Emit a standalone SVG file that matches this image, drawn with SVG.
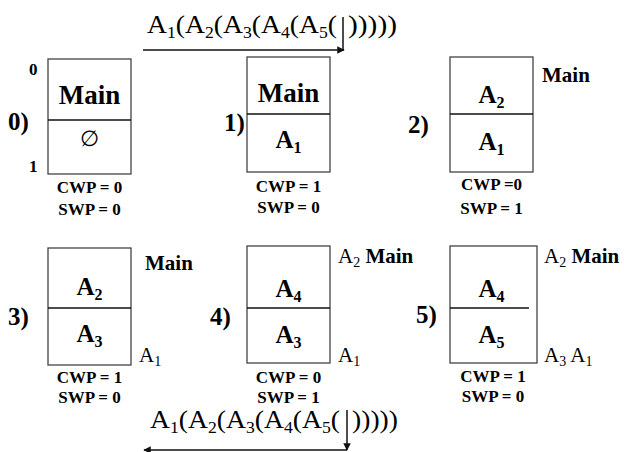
<svg xmlns="http://www.w3.org/2000/svg" width="624" height="452" viewBox="0 0 624 452">
<style>
.box{fill:#fff;stroke:#444;stroke-width:1.3}
.div{stroke:#111;stroke-width:1.3}
.conn{stroke:#111;stroke-width:1.5;fill:none}
</style>
<defs>
<marker id="ah" viewBox="0 0 10 10" refX="9" refY="5" markerWidth="5" markerHeight="5" orient="auto" markerUnits="strokeWidth">
<path d="M0,0 L10,5 L0,10 z" fill="#111"/>
</marker>
</defs>

<g id="step0">
<text x="8" y="130" style="font-family:'Liberation Serif';font-weight:bold;font-size:25px">0)</text>
<text x="29" y="75" style="font-family:'Liberation Serif';font-weight:bold;font-size:17px">0</text>
<text x="29" y="172" style="font-family:'Liberation Serif';font-weight:bold;font-size:17px">1</text>
<rect class="box" x="48" y="59" width="83" height="115"/>
<line class="div" x1="48" y1="120" x2="131" y2="120"/>
<text x="89.5" y="104" text-anchor="middle" style="font-family:'Liberation Serif';font-weight:bold;font-size:27px">Main</text>
<text x="89.5" y="146" text-anchor="middle" style="font-family:'DejaVu Serif';font-size:22px">∅</text>
<text x="89.5" y="193" text-anchor="middle" style="font-family:'Liberation Serif';font-weight:bold;font-size:17px">CWP = 0</text>
<text x="89.5" y="215" text-anchor="middle" style="font-family:'Liberation Serif';font-weight:bold;font-size:17px">SWP = 0</text>
</g>

<g id="step1">
<text x="224" y="131" style="font-family:'Liberation Serif';font-weight:bold;font-size:25px">1)</text>
<rect class="box" x="247" y="57" width="83" height="115"/>
<line class="div" x1="247" y1="114" x2="330" y2="114"/>
<text x="288.5" y="102" text-anchor="middle" style="font-family:'Liberation Serif';font-weight:bold;font-size:27px">Main</text>
<text x="288.5" y="148" text-anchor="middle" style="font-family:'Liberation Serif';font-weight:bold;font-size:25px">A<tspan dy="5" style="font-size:16px">1</tspan></text>
<text x="288.5" y="192" text-anchor="middle" style="font-family:'Liberation Serif';font-weight:bold;font-size:17px">CWP = 1</text>
<text x="288.5" y="213" text-anchor="middle" style="font-family:'Liberation Serif';font-weight:bold;font-size:17px">SWP = 0</text>
</g>

<g id="step2">
<text x="408" y="133" style="font-family:'Liberation Serif';font-weight:bold;font-size:25px">2)</text>
<rect class="box" x="450" y="57" width="83" height="115"/>
<line class="div" x1="450" y1="114" x2="533" y2="114"/>
<text x="491.5" y="103" text-anchor="middle" style="font-family:'Liberation Serif';font-weight:bold;font-size:25px">A<tspan dy="5" style="font-size:16px">2</tspan></text>
<text x="491.5" y="150" text-anchor="middle" style="font-family:'Liberation Serif';font-weight:bold;font-size:25px">A<tspan dy="5" style="font-size:16px">1</tspan></text>
<text x="542" y="82" style="font-family:'Liberation Serif';font-weight:bold;font-size:21px">Main</text>
<text x="491.5" y="190" text-anchor="middle" style="font-family:'Liberation Serif';font-weight:bold;font-size:17px">CWP =0</text>
<text x="491.5" y="214" text-anchor="middle" style="font-family:'Liberation Serif';font-weight:bold;font-size:17px">SWP = 1</text>
</g>

<g id="step3">
<text x="8" y="325" style="font-family:'Liberation Serif';font-weight:bold;font-size:25px">3)</text>
<rect class="box" x="48" y="248" width="83" height="117"/>
<line class="div" x1="48" y1="308" x2="131" y2="308"/>
<text x="89.5" y="295" text-anchor="middle" style="font-family:'Liberation Serif';font-weight:bold;font-size:25px">A<tspan dy="5" style="font-size:16px">2</tspan></text>
<text x="89.5" y="342" text-anchor="middle" style="font-family:'Liberation Serif';font-weight:bold;font-size:25px">A<tspan dy="5" style="font-size:16px">3</tspan></text>
<text x="145" y="270" style="font-family:'Liberation Serif';font-weight:bold;font-size:21px">Main</text>
<text x="139" y="362" style="font-family:'Liberation Serif';font-size:21px">A<tspan dy="4" style="font-size:14px">1</tspan></text>
<text x="89.5" y="383" text-anchor="middle" style="font-family:'Liberation Serif';font-weight:bold;font-size:17px">CWP = 1</text>
<text x="89.5" y="403" text-anchor="middle" style="font-family:'Liberation Serif';font-weight:bold;font-size:17px">SWP = 0</text>
</g>

<g id="step4">
<text x="210" y="325" style="font-family:'Liberation Serif';font-weight:bold;font-size:25px">4)</text>
<rect class="box" x="247" y="246" width="83" height="117"/>
<line class="div" x1="247" y1="308" x2="330" y2="308"/>
<text x="288.5" y="297" text-anchor="middle" style="font-family:'Liberation Serif';font-weight:bold;font-size:25px">A<tspan dy="5" style="font-size:16px">4</tspan></text>
<text x="288.5" y="343" text-anchor="middle" style="font-family:'Liberation Serif';font-weight:bold;font-size:25px">A<tspan dy="5" style="font-size:16px">3</tspan></text>
<text x="338" y="263" style="font-family:'Liberation Serif';font-size:21px">A<tspan dy="4" style="font-size:14px">2</tspan><tspan dy="-4" style="font-weight:bold"> Main</tspan></text>
<text x="338" y="362" style="font-family:'Liberation Serif';font-size:21px">A<tspan dy="4" style="font-size:14px">1</tspan></text>
<text x="288.5" y="383" text-anchor="middle" style="font-family:'Liberation Serif';font-weight:bold;font-size:17px">CWP = 0</text>
<text x="288.5" y="403" text-anchor="middle" style="font-family:'Liberation Serif';font-weight:bold;font-size:17px">SWP = 1</text>
</g>

<g id="step5">
<text x="416" y="323" style="font-family:'Liberation Serif';font-weight:bold;font-size:25px">5)</text>
<rect class="box" x="450" y="246" width="87" height="117"/>
<line class="div" x1="450" y1="308" x2="529" y2="308"/>
<text x="491.5" y="297" text-anchor="middle" style="font-family:'Liberation Serif';font-weight:bold;font-size:25px">A<tspan dy="5" style="font-size:16px">4</tspan></text>
<text x="491.5" y="343" text-anchor="middle" style="font-family:'Liberation Serif';font-weight:bold;font-size:25px">A<tspan dy="5" style="font-size:16px">5</tspan></text>
<text x="544" y="263" style="font-family:'Liberation Serif';font-size:21px">A<tspan dy="4" style="font-size:14px">2</tspan><tspan dy="-4" style="font-weight:bold"> Main</tspan></text>
<text x="544" y="362" style="font-family:'Liberation Serif';font-size:21px">A<tspan dy="4" style="font-size:14px">3</tspan><tspan dy="-4"> A</tspan><tspan dy="4" style="font-size:14px">1</tspan></text>
<text x="493" y="382" text-anchor="middle" style="font-family:'Liberation Serif';font-weight:bold;font-size:17px">CWP = 1</text>
<text x="493" y="402" text-anchor="middle" style="font-family:'Liberation Serif';font-weight:bold;font-size:17px">SWP = 0</text>
</g>

<g id="connectors" style="font-family:'Liberation Serif';font-size:25px">
<text x="147" y="33" textLength="190" lengthAdjust="spacingAndGlyphs">A<tspan dy="5" style="font-size:16px">1</tspan><tspan dy="-5">(A</tspan><tspan dy="5" style="font-size:16px">2</tspan><tspan dy="-5">(A</tspan><tspan dy="5" style="font-size:16px">3</tspan><tspan dy="-5">(A</tspan><tspan dy="5" style="font-size:16px">4</tspan><tspan dy="-5">(A</tspan><tspan dy="5" style="font-size:16px">5</tspan><tspan dy="-5">(</tspan></text>
<text x="348" y="33" textLength="49" lengthAdjust="spacingAndGlyphs">)))))</text>
<path class="conn" d="M343,17 V50"/>
<path class="conn" d="M143,50 H344" marker-end="url(#ah)"/>
<text x="150" y="428" textLength="190" lengthAdjust="spacingAndGlyphs">A<tspan dy="5" style="font-size:16px">1</tspan><tspan dy="-5">(A</tspan><tspan dy="5" style="font-size:16px">2</tspan><tspan dy="-5">(A</tspan><tspan dy="5" style="font-size:16px">3</tspan><tspan dy="-5">(A</tspan><tspan dy="5" style="font-size:16px">4</tspan><tspan dy="-5">(A</tspan><tspan dy="5" style="font-size:16px">5</tspan><tspan dy="-5">(</tspan></text>
<text x="352" y="428" textLength="46" lengthAdjust="spacingAndGlyphs">)))))</text>
<path class="conn" d="M347,410 V450" marker-end="url(#ah)"/>
<path class="conn" d="M347,450 H144" marker-end="url(#ah)"/>
</g>
</svg>
